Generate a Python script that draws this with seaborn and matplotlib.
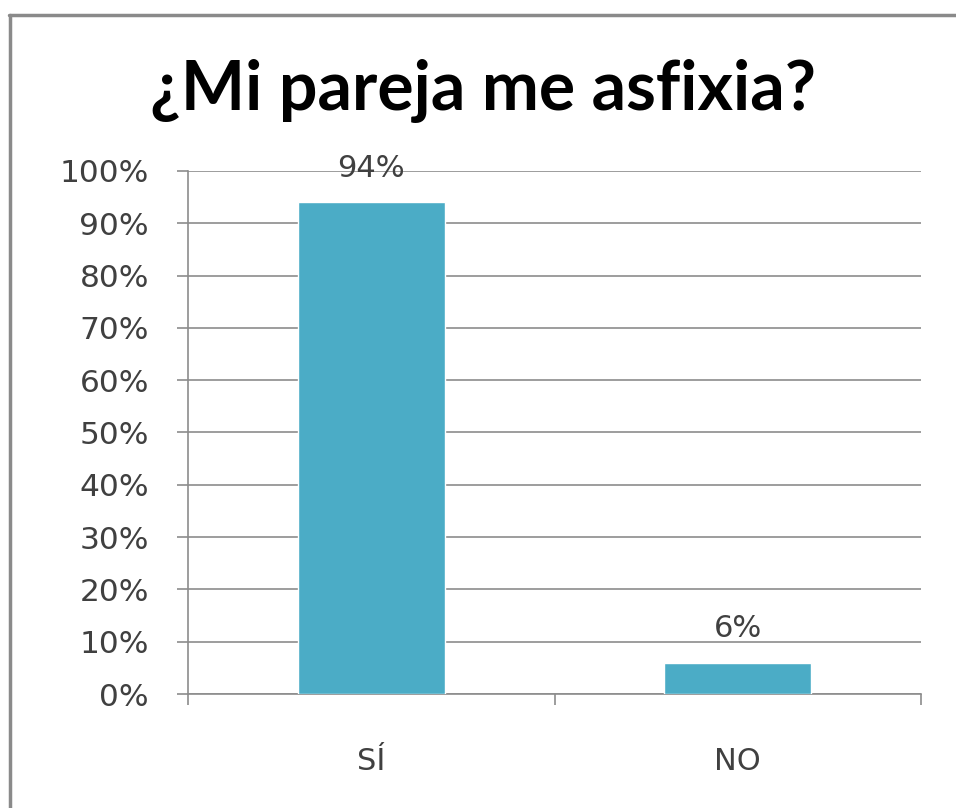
import matplotlib
matplotlib.use("Agg")
import matplotlib.pyplot as plt
from matplotlib.lines import Line2D
from matplotlib.ticker import PercentFormatter, MultipleLocator, FixedLocator
import seaborn as sns
import pandas as pd

# Survey answers and their shares
categories = ["SÍ", "NO"]
shares = [0.94, 0.06]
title = "¿Mi pareja me asfixia?"

df = pd.DataFrame({"respuesta": categories, "porcentaje": shares})

sns.set_theme(style="white")
plt.rcParams["font.family"] = ["DejaVu Sans"]

W, H = 956, 808
fig = plt.figure(figsize=(W / 100, H / 100), dpi=100)
ax = fig.add_axes([188 / W, (H - 694) / H, (921 - 188) / W, (694 - 171) / H])

bar_color = "#4BACC6"
grid_color = "#8C8C8C"
text_color = "#404040"

sns.barplot(data=df, x="respuesta", y="porcentaje", color=bar_color,
            saturation=1, width=0.4, ax=ax, zorder=3)

ax.set_xlim(-0.5, len(categories) - 0.5)
ax.set_ylim(0, 1)
ax.yaxis.set_major_locator(MultipleLocator(0.1))
ax.yaxis.set_major_formatter(PercentFormatter(1.0, decimals=0))
ax.grid(axis="y", color=grid_color, linewidth=1.2, zorder=0)
ax.grid(axis="x", visible=False)
ax.set_xlabel("")
ax.set_ylabel("")

for side in ("top", "right"):
    ax.spines[side].set_visible(False)
for side in ("left", "bottom"):
    ax.spines[side].set_color(grid_color)
    ax.spines[side].set_linewidth(1.2)

ax.tick_params(axis="y", which="major", left=True, length=8, width=1.2,
               color=grid_color, labelsize=22.5, labelcolor=text_color, pad=20)
ax.tick_params(axis="x", which="major", bottom=False, labelsize=22,
               labelcolor=text_color, pad=32)
# category separators below the axis
ax.xaxis.set_minor_locator(FixedLocator([-0.5, 0.5, 1.5]))
ax.tick_params(axis="x", which="minor", bottom=True, length=8, width=1.2,
               color=grid_color)

ax.bar_label(ax.containers[0], labels=[f"{v * 100:.0f}%" for v in shares],
             padding=14, fontsize=22, color=text_color)

fig.text(483 / W, (H - 110) / H, title, ha="center", va="baseline",
         fontsize=49, fontweight="bold", family=["Lato", "DejaVu Sans"],
         color="black")

# chart-area frame (top and left edges)
frame_color = "#8A8A8A"
fig.add_artist(Line2D([9 / W, 1], [(H - 14.5) / H, (H - 14.5) / H],
                      transform=fig.transFigure, color=frame_color, linewidth=2.5))
fig.add_artist(Line2D([9.5 / W, 9.5 / W], [0, (H - 14.5) / H],
                      transform=fig.transFigure, color=frame_color, linewidth=2.5))

fig.savefig("out.png", dpi=100, facecolor="white")
